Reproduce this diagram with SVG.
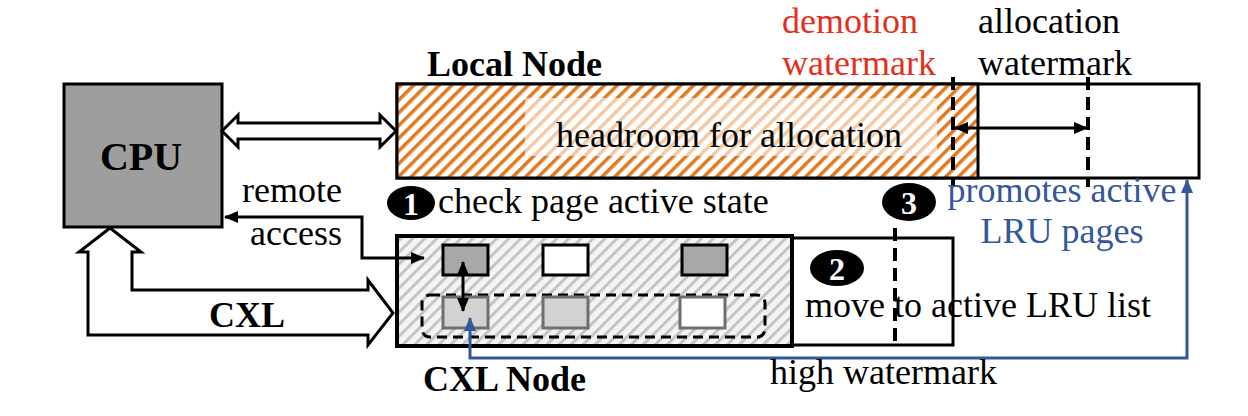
<svg xmlns="http://www.w3.org/2000/svg" width="1248" height="416" viewBox="0 0 1248 416">
<style>
text{font-family:"Liberation Serif","Times New Roman",serif;font-size:36px;fill:#000}
.b{font-weight:bold}
.red{fill:#e2301c}
.blue{fill:#34569a}
.num{fill:#fff;font-weight:bold;font-size:32px;text-anchor:middle}
.box{stroke:#000;stroke-width:3}
.wm{stroke:#000;stroke-width:4;stroke-dasharray:13 7;fill:none}
.ln{stroke:#000;stroke-width:3;fill:none}
</style>
<defs>
<pattern id="orange" patternUnits="userSpaceOnUse" width="9" height="9" patternTransform="rotate(45)">
<rect width="9" height="9" fill="#fff"/>
<rect width="3.5" height="9" fill="#e07a22"/>
</pattern>
<pattern id="gray" patternUnits="userSpaceOnUse" width="8.5" height="8.5" patternTransform="rotate(45)">
<rect width="8.5" height="8.5" fill="#f4f4f4"/>
<rect width="3" height="8.5" fill="#c4c4c4"/>
</pattern>
<marker id="ah" markerUnits="userSpaceOnUse" viewBox="0 0 14 12" refX="13" refY="6" markerWidth="14" markerHeight="12" orient="auto-start-reverse">
<path d="M0,0 L14,6 L0,12 Z" fill="#000"/>
</marker>
<marker id="ahb" markerUnits="userSpaceOnUse" viewBox="0 0 14 12" refX="13" refY="6" markerWidth="14" markerHeight="12" orient="auto-start-reverse">
<path d="M0,0 L14,6 L0,12 Z" fill="#34569a"/>
</marker>
</defs>
<rect width="1248" height="416" fill="#fff"/>

<g id="cpu">
<rect x="64" y="84" width="158" height="143" fill="#9e9e9e" class="box"/>
<text x="141" y="170" class="b" text-anchor="middle" style="font-size:40px">CPU</text>
</g>

<g id="local-node">
<rect x="397" y="84" width="802" height="94" fill="#fff" class="box"/>
<rect x="397" y="84" width="581" height="94" fill="url(#orange)" class="box"/>
<rect x="525" y="98" width="412" height="58" fill="#fff" opacity="0.6"/>
<text x="729" y="147" text-anchor="middle">headroom for allocation</text>
<text x="427" y="76" class="b">Local Node</text>
</g>

<g id="cxl-node">
<rect x="792" y="238" width="161" height="107" fill="#fff" class="box"/>
<rect x="397" y="236" width="395" height="110" fill="url(#gray)" stroke="#000" stroke-width="4"/>
<rect x="443" y="245" width="45" height="30" fill="#a8a8a8" class="box"/>
<rect x="543" y="245" width="45" height="30" fill="#fff" class="box"/>
<rect x="682" y="245" width="45" height="30" fill="#a8a8a8" class="box"/>
<rect x="422" y="295" width="343" height="42" rx="8" fill="none" stroke="#000" stroke-width="3" stroke-dasharray="10 6"/>
<rect x="443" y="297" width="45" height="31" fill="#d2d2d2" stroke="#6e6e6e" stroke-width="3"/>
<rect x="543" y="297" width="45" height="31" fill="#d2d2d2" stroke="#6e6e6e" stroke-width="3"/>
<rect x="680" y="297" width="45" height="31" fill="#fff" stroke="#6e6e6e" stroke-width="3"/>
<text x="423" y="391" class="b">CXL Node</text>
</g>

<g id="connectors">
<path d="M222,131 L238,115 L238,123 L380,123 L380,115 L396,131 L380,147 L380,139 L238,139 L238,147 Z" fill="#fff" stroke="#000" stroke-width="3" stroke-linejoin="miter"/>
<path d="M110,228 L141,252 L132,252 L132,290 L368,290 L368,280 L393,313 L368,345 L368,335 L88,335 L88,252 L79,252 Z" fill="#fff" stroke="#000" stroke-width="3"/>
<path d="M225,217 H362 V258 H424" class="ln" marker-start="url(#ah)" marker-end="url(#ah)"/>
<path d="M463,262 V311" class="ln" marker-start="url(#ah)" marker-end="url(#ah)"/>
<path d="M470,318 V358 H1187 V180" fill="none" stroke="#34569a" stroke-width="3" marker-start="url(#ahb)" marker-end="url(#ahb)"/>
<path d="M955,128 H1087" class="ln" marker-start="url(#ah)" marker-end="url(#ah)"/>
<line x1="953" y1="77" x2="953" y2="187" class="wm"/>
<line x1="1088" y1="77" x2="1088" y2="187" class="wm"/>
<line x1="895" y1="228" x2="895" y2="343" class="wm"/>
</g>

<g id="labels">
<text x="782" y="33" class="red">demotion</text>
<text x="782" y="75" class="red">watermark</text>
<text x="978" y="33">allocation</text>
<text x="978" y="75">watermark</text>
<text x="342" y="202" text-anchor="end">remote</text>
<text x="342" y="245" text-anchor="end">access</text>
<text x="247" y="327" class="b" text-anchor="middle">CXL</text>
<ellipse cx="411" cy="203" rx="24" ry="17" fill="#000"/>
<text x="411" y="215" class="num">1</text>
<text x="438" y="213">check page active state</text>
<ellipse cx="909" cy="202" rx="27" ry="19" fill="#000"/>
<text x="909" y="214" class="num">3</text>
<ellipse cx="837" cy="268" rx="27" ry="18" fill="#000"/>
<text x="837" y="280" class="num">2</text>
<text x="805" y="317">move to active LRU list</text>
<text x="770" y="384">high watermark</text>
<text x="1062" y="202" class="blue" text-anchor="middle">promotes active</text>
<text x="1062" y="243" class="blue" text-anchor="middle">LRU pages</text>
</g>
</svg>
